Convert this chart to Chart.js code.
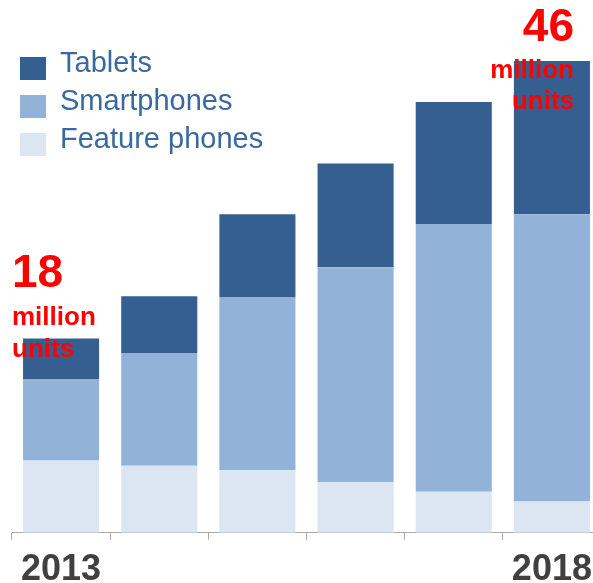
<!DOCTYPE html>
<html>
<head>
<meta charset="utf-8">
<script src="https://cdn.jsdelivr.net/npm/chart.js@4.4.0/dist/chart.umd.min.js"></script>
<style>
  html, body { margin: 0; padding: 0; background: #fff; overflow: hidden; }
  #wrap { position: relative; width: 593px; height: 583px; overflow: hidden; }
</style>
</head>
<body>
<div id="wrap"><canvas id="c" width="610" height="589"></canvas></div>
<script>
// Data (million units)
const years = ["2013", "2014", "2015", "2016", "2017", "2018"];
const tickLabels = ["2013", "", "", "", "", "2018"];
const featurePhones = [6.7, 6.2, 5.8, 4.7, 3.8, 2.9];
const smartphones   = [7.5, 10.4, 16.0, 19.9, 24.8, 26.6];
const tablets       = [3.8, 5.3, 7.7, 9.6, 11.3, 14.2];
const calloutStart = ["18", "million", "units"];
const calloutEnd   = ["46", "million", "units"];

const colTablets = "#365f91";
const colSmart   = "#93b2d7";
const colFeature = "#dce6f2";

const legendPlugin = {
  id: "sideLegend",
  afterDraw(chart) {
    const ctx = chart.ctx;
    ctx.save();
    const items = chart.data.datasets.slice().reverse();
    items.forEach((ds, i) => {
      const y = 57 + i * 38;
      ctx.fillStyle = ds.backgroundColor;
      ctx.fillRect(20, y, 26, 23);
      ctx.fillStyle = "#3a69a0";
      ctx.font = "29px 'Liberation Sans', Arial, sans-serif";
      ctx.textBaseline = "alphabetic";
      ctx.textAlign = "left";
      ctx.fillText(ds.label, 60, y + 15);
    });
    ctx.restore();
  }
};

const calloutPlugin = {
  id: "callouts",
  afterDraw(chart) {
    const ctx = chart.ctx;
    ctx.save();
    ctx.fillStyle = "#ff0000";
    ctx.textBaseline = "alphabetic";
    ctx.textAlign = "left";
    ctx.font = "bold 46px 'Liberation Sans', Arial, sans-serif";
    ctx.fillText(calloutStart[0], 12, 287);
    ctx.font = "bold 26px 'Liberation Sans', Arial, sans-serif";
    ctx.fillText(calloutStart[1], 12, 325);
    ctx.fillText(calloutStart[2], 12, 357);
    ctx.textAlign = "right";
    ctx.font = "bold 46px 'Liberation Sans', Arial, sans-serif";
    ctx.fillText(calloutEnd[0], 574, 41);
    ctx.font = "bold 26px 'Liberation Sans', Arial, sans-serif";
    ctx.fillText(calloutEnd[1], 574, 78);
    ctx.fillText(calloutEnd[2], 574, 109);
    ctx.restore();
  }
};

new Chart(document.getElementById("c"), {
  type: "bar",
  data: {
    labels: years,
    datasets: [
      { label: "Feature phones", data: featurePhones, backgroundColor: colFeature },
      { label: "Smartphones", data: smartphones, backgroundColor: colSmart },
      { label: "Tablets", data: tablets, backgroundColor: colTablets }
    ]
  },
  options: {
    responsive: false,
    animation: false,
    layout: { padding: { left: 12, right: 9, top: 0, bottom: -11 } },
    datasets: { bar: { categoryPercentage: 1.0, barPercentage: 0.775, borderWidth: 0 } },
    plugins: { legend: { display: false }, tooltip: { enabled: false }, title: { display: false } },
    scales: {
      x: {
        stacked: true,
        offset: true,
        grid: { display: true, drawOnChartArea: false, drawTicks: true, tickLength: 7, color: "#aaaaaa", offset: true },
        border: { display: true, color: "#aaaaaa", width: 1 },
        ticks: {
          autoSkip: false,
          maxRotation: 0,
          padding: 15,
          color: "#404040",
          font: { family: "'Liberation Sans', Arial, sans-serif", size: 36, weight: "bold", lineHeight: 0.84 },
          callback: (v, i) => tickLabels[i]
        }
      },
      y: {
        stacked: true,
        display: false,
        min: 0,
        max: 49.35
      }
    }
  },
  plugins: [legendPlugin, calloutPlugin]
});
</script>
</body>
</html>
